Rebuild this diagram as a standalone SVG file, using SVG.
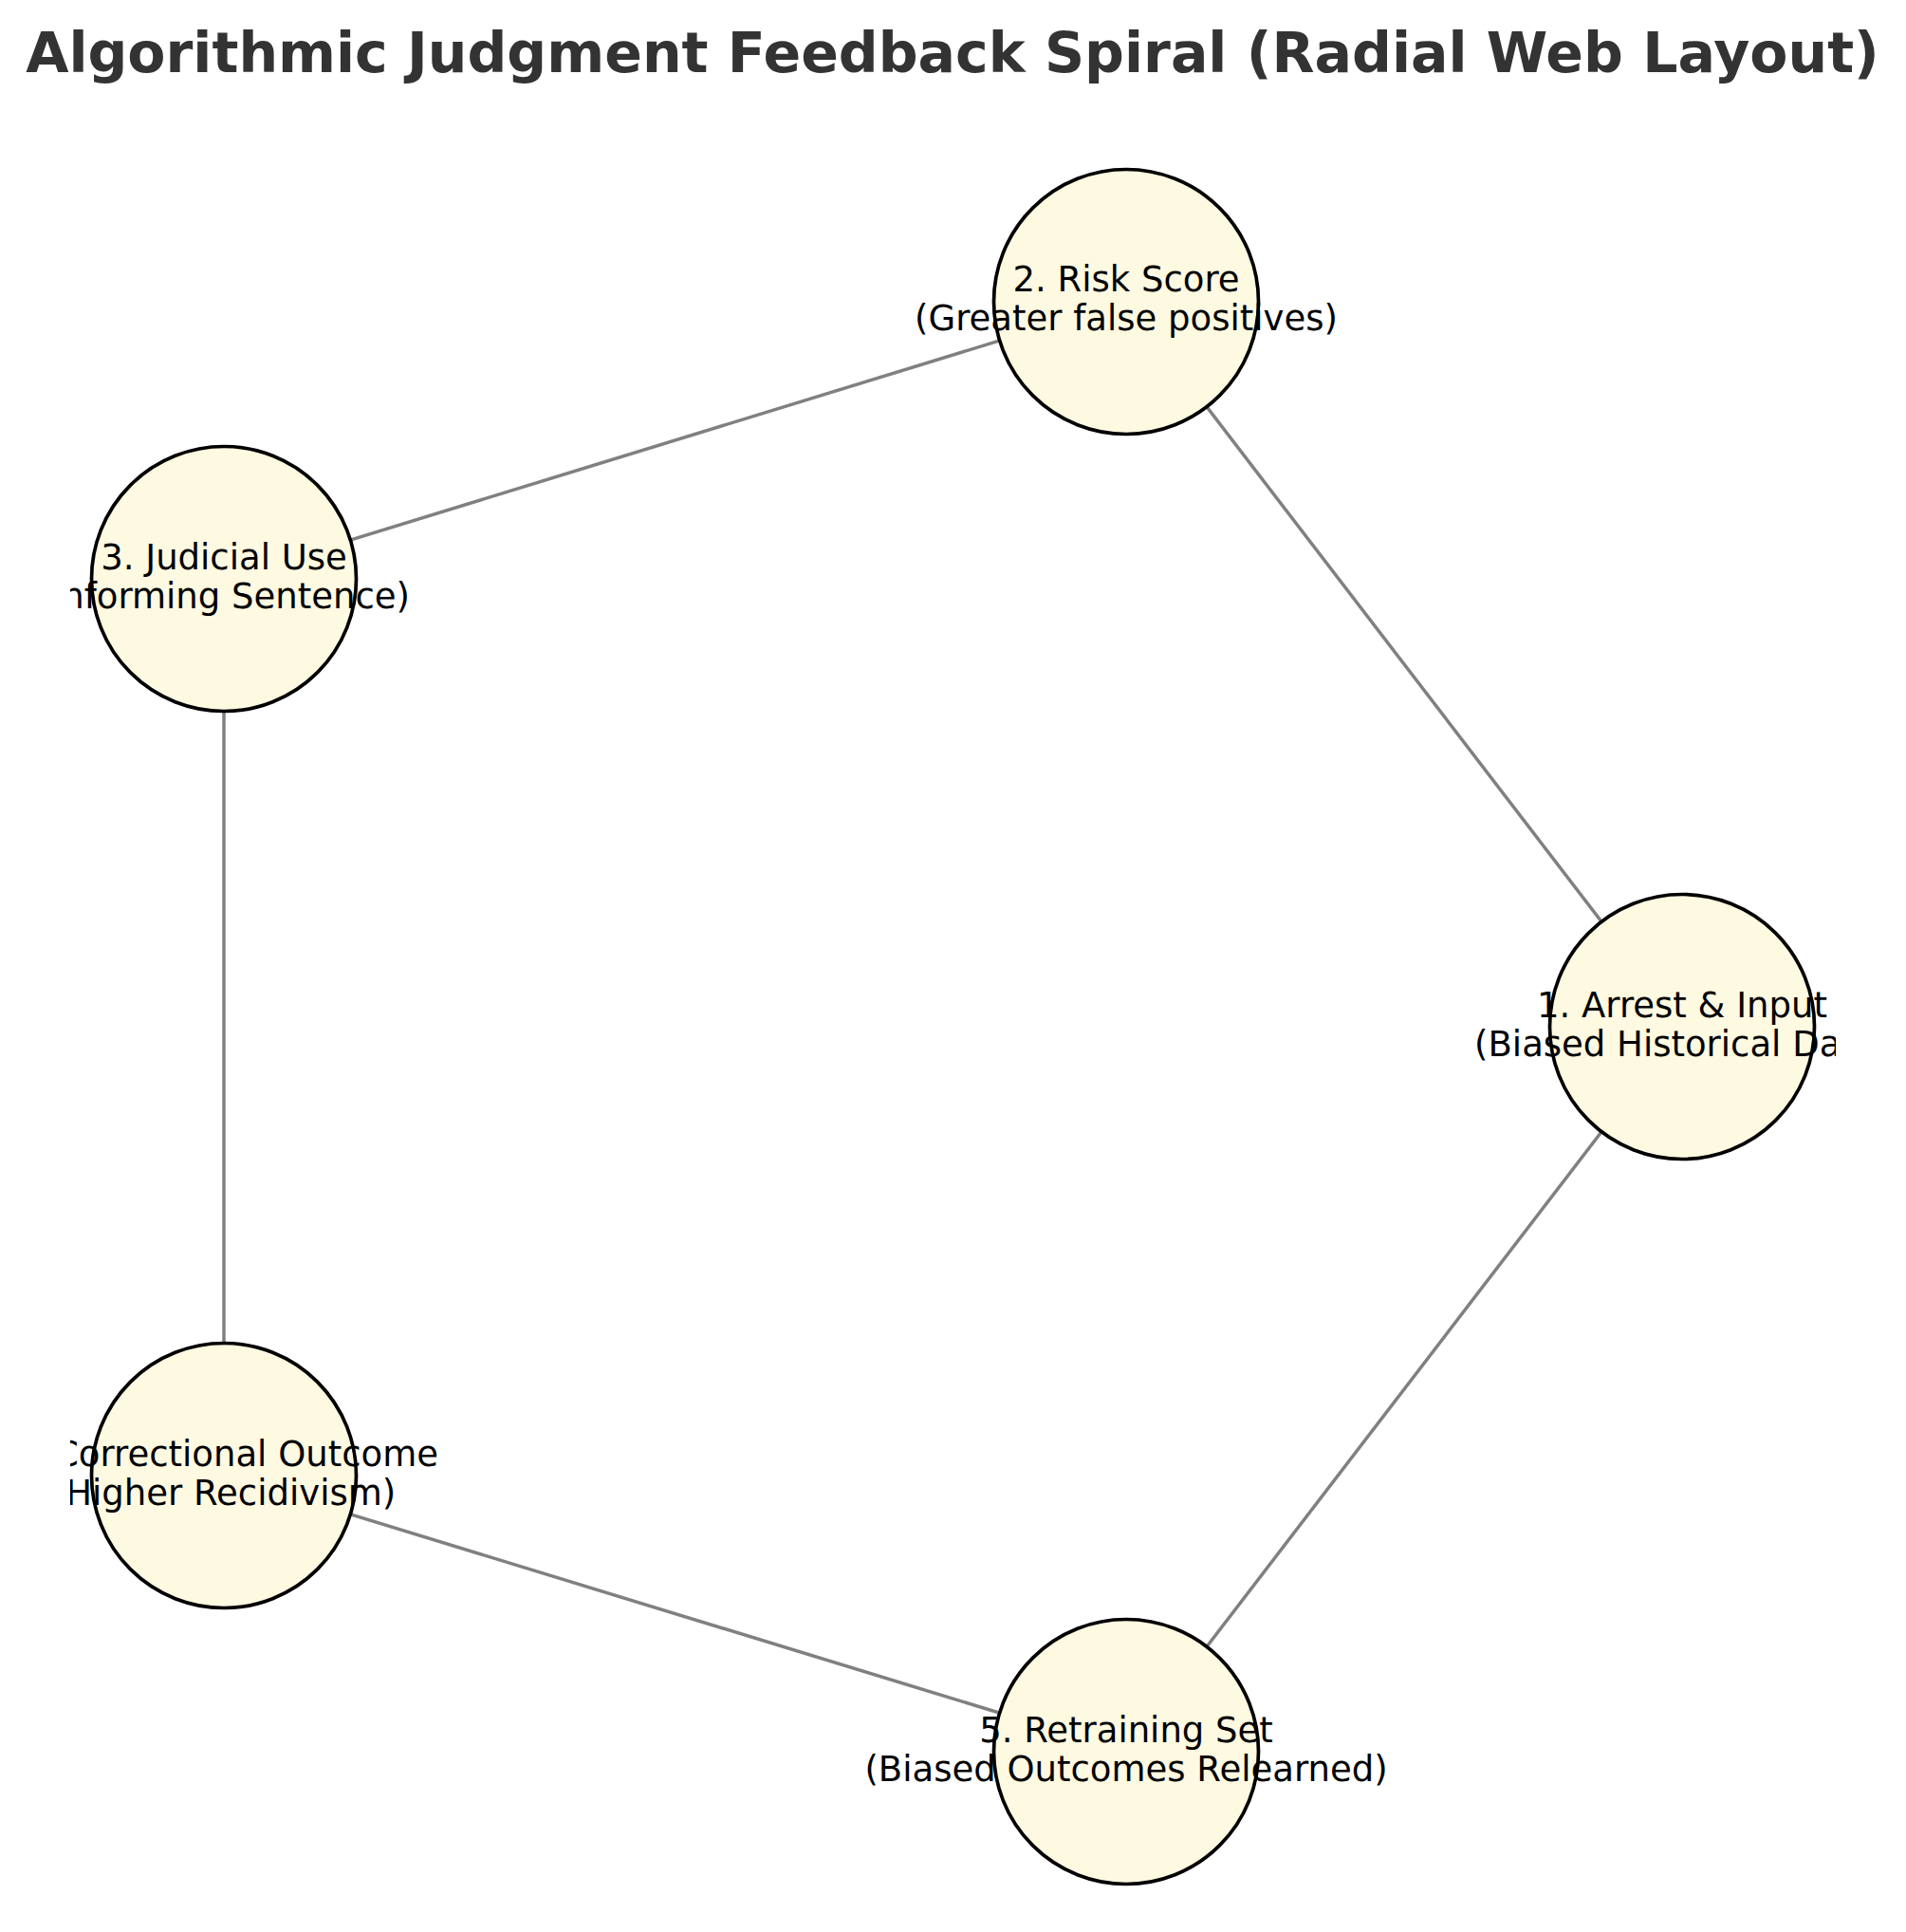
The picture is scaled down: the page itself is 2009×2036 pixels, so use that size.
<svg xmlns="http://www.w3.org/2000/svg" width="2009" height="2036" viewBox="0 0 2009 2036">
<style>
.edge{stroke:#808080;stroke-width:3.5;fill:none}
.node{fill:#fef9e1;stroke:#000;stroke-width:3.7}
.lbl{font-family:"DejaVu Sans",sans-serif;font-size:37px;fill:#000;text-anchor:middle}
.title{font-family:"DejaVu Sans",sans-serif;font-size:58.5px;font-weight:bold;fill:#333333;text-anchor:middle}
</style>
<defs>
<clipPath id="ax"><rect x="74" y="100" width="1861" height="1936"/></clipPath>
</defs>
<rect width="2009" height="2036" fill="#ffffff"/>
<text class="title" x="1004" y="76">Algorithmic Judgment Feedback Spiral (Radial Web Layout)</text>
<g id="connectors" clip-path="url(#ax)">
<line class="edge" x1="1773" y1="1082" x2="1187" y2="318"/>
<line class="edge" x1="1187" y1="318" x2="236" y2="610"/>
<line class="edge" x1="236" y1="610" x2="236" y2="1555"/>
<line class="edge" x1="236" y1="1555" x2="1187" y2="1846"/>
<line class="edge" x1="1187" y1="1846" x2="1773" y2="1082"/>
</g>
<g clip-path="url(#ax)">
<g id="node1">
<circle class="node" cx="1773" cy="1082" r="139.5"/>
<text class="lbl" x="1773" y="1072">1. Arrest &amp; Input</text>
<text class="lbl" x="1773" y="1113">(Biased Historical Data)</text>
</g>
<g id="node2">
<circle class="node" cx="1187" cy="318" r="139.5"/>
<text class="lbl" x="1187" y="307">2. Risk Score</text>
<text class="lbl" x="1187" y="348">(Greater false positives)</text>
</g>
<g id="node3">
<circle class="node" cx="236" cy="610" r="139.5"/>
<text class="lbl" x="236" y="600">3. Judicial Use</text>
<text class="lbl" x="236" y="641">(Informing Sentence)</text>
</g>
<g id="node4">
<circle class="node" cx="236" cy="1555" r="139.5"/>
<text class="lbl" x="236" y="1545">4. Correctional Outcome</text>
<text class="lbl" x="236" y="1586">(Higher Recidivism)</text>
</g>
<g id="node5">
<circle class="node" cx="1187" cy="1846" r="139.5"/>
<text class="lbl" x="1187" y="1836">5. Retraining Set</text>
<text class="lbl" x="1187" y="1877">(Biased Outcomes Relearned)</text>
</g>
</g>
</svg>
